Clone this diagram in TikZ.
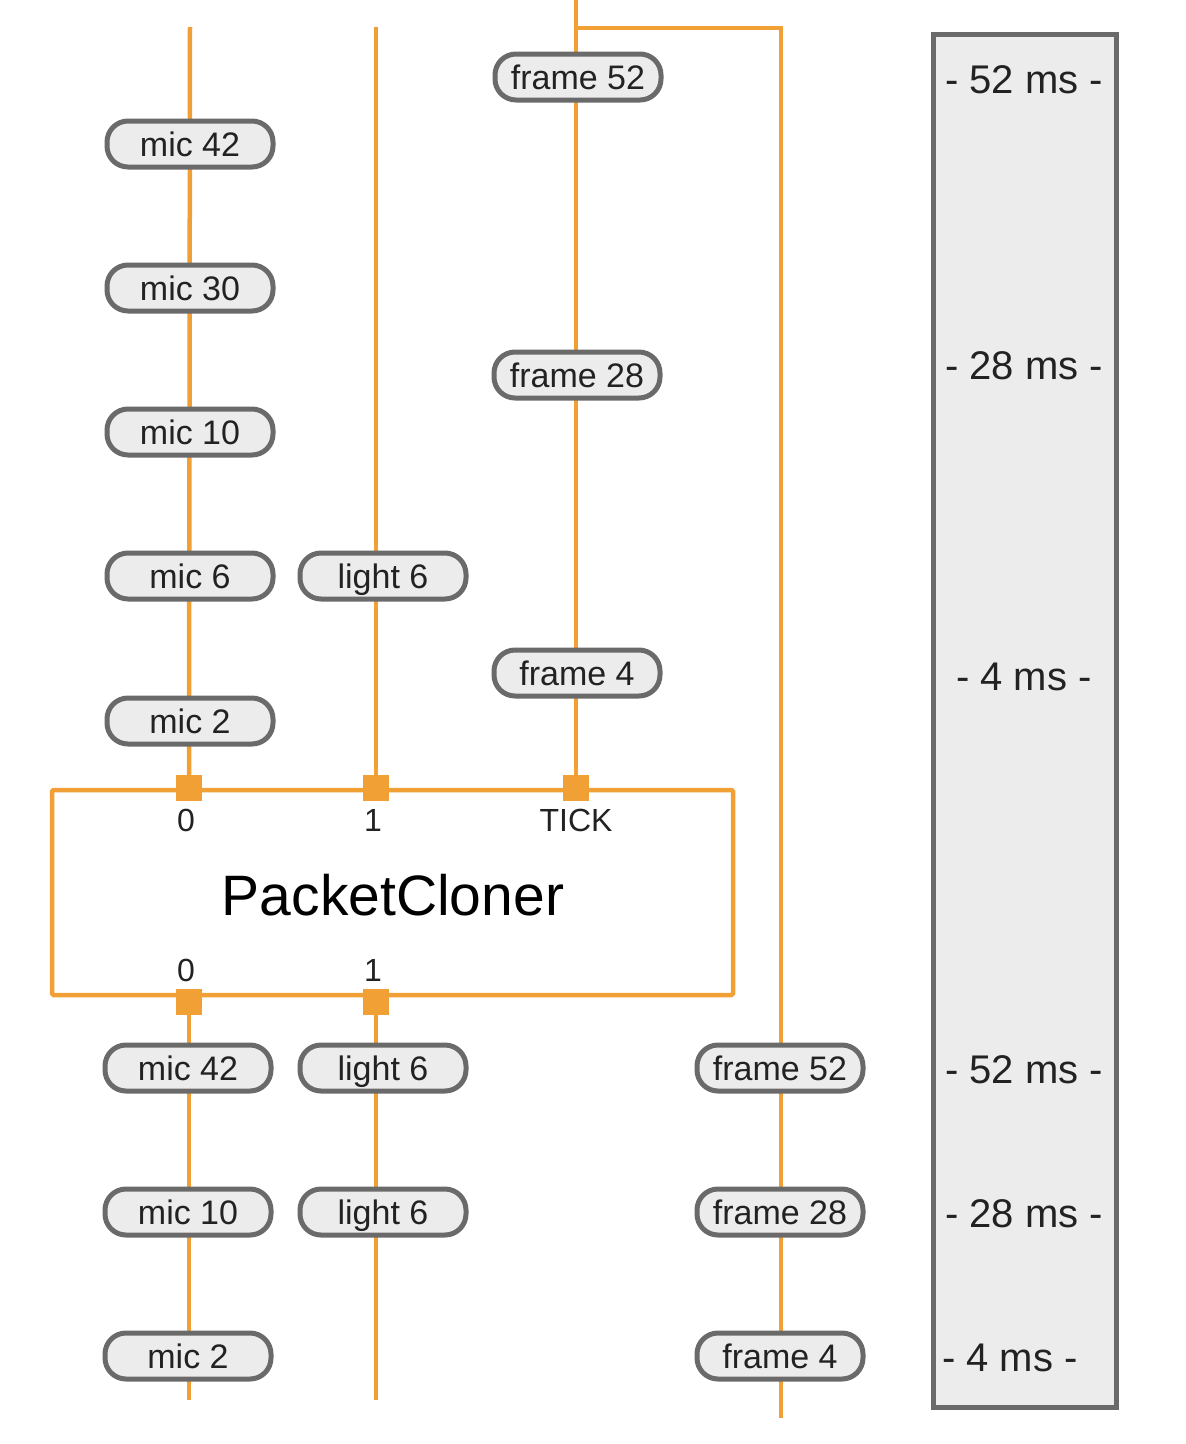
\documentclass[tikz,border=0pt]{standalone}
\usepackage{fontspec}
\setmainfont{Liberation Sans}
\usetikzlibrary{backgrounds}
\definecolor{wirec}{HTML}{F0A035}
\definecolor{pillfill}{HTML}{ECECEC}
\definecolor{pilldraw}{HTML}{6A6A6A}
\definecolor{txt}{HTML}{222222}
\begin{document}
\begin{tikzpicture}[x=1pt,y=-1pt,
  pill/.style={draw=pilldraw, fill=pillfill, line width=5pt, rounded corners=21pt,
    minimum width=166pt, minimum height=46pt, inner sep=0pt,
    text height=24pt, text depth=0pt,
    font=\fontsize{34}{40}\selectfont, text=txt},
  wire/.style={draw=wirec, line width=4.5pt},
  port/.style={fill=wirec, minimum size=26pt, inner sep=0pt},
  plabel/.style={font=\fontsize{32}{36}\selectfont, text=txt, inner sep=0pt, text height=23pt, text depth=0pt},
  mslabel/.style={font=\fontsize{40}{44}\selectfont, text=txt, inner sep=0pt, text height=29pt, text depth=0pt},
  panel/.style={draw=pilldraw, fill=pillfill, line width=5pt}]
\useasboundingbox (0,0) rectangle (1186,1444);

% PacketCloner box
\node[wire, minimum width=681pt, minimum height=205pt, inner sep=0pt, rounded corners=1.5pt] (pc) at (392.5,892.5) {};
\node[font=\fontsize{57}{62}\selectfont, text=black, text height=41pt, text depth=0pt, inner sep=0pt] (title) at (393,895) {PacketCloner};

% ports
\node[port] (in0) at (189,788) {};
\node[port] (in1) at (376,788) {};
\node[port] (tick) at (576,788) {};
\node[port] (out0) at (189,1002) {};
\node[port] (out1) at (376,1002) {};
\node[plabel] (lin0) at (186,820) {0};
\node[plabel] (lin1) at (373,820) {1};
\node[plabel] (ltick) at (576,820) {TICK};
\node[plabel] (lout0) at (186,970) {0};
\node[plabel] (lout1) at (373,970) {1};

% free ends
\coordinate (topA) at (190,27);
\coordinate (topB) at (376,27);
\coordinate (topF) at (576,0);
\coordinate (branch) at (576,28);
\coordinate (botA) at (189,1400);
\coordinate (botB) at (376,1400);
\coordinate (botF) at (781,1418);

% input pills
\node[pill] (m42) at (190,144) {mic 42};
\node[pill] (m30) at (190,288) {mic 30};
\node[pill] (m10) at (190,432) {mic 10};
\node[pill] (m6) at (190,576) {mic 6};
\node[pill] (m2) at (190,721) {mic 2};
\node[pill] (l6) at (383,576) {light 6};
\node[pill] (f52) at (578,77) {frame 52};
\node[pill] (f28) at (577,375) {frame 28};
\node[pill] (f4) at (577,673) {frame 4};

% output pills
\node[pill] (om42) at (188,1068) {mic 42};
\node[pill] (om10) at (188,1212) {mic 10};
\node[pill] (om2) at (188,1356) {mic 2};
\node[pill] (ol6a) at (383,1068) {light 6};
\node[pill] (ol6b) at (383,1212) {light 6};
\node[pill] (of52) at (780,1068) {frame 52};
\node[pill] (of28) at (780,1212) {frame 28};
\node[pill] (of4) at (780,1356) {frame 4};

% wires behind
\begin{scope}[on background layer]
\draw[wire] (topA) -- (in0.center);
\draw[wire] (topB) -- (in1.center);
\draw[wire] (topF) -- (tick.center);
\draw[wire] (branch) -| (botF);
\draw[wire] (out0.center) -- (botA);
\draw[wire] (out1.center) -- (botB);
\end{scope}

% timing panel
\node[panel, minimum width=183pt, minimum height=1373pt, inner sep=0pt] (panel) at (1025,721) {};
\node[mslabel] (t1) at (1024,79) {- 52 ms -};
\node[mslabel] (t2) at (1024,365) {- 28 ms -};
\node[mslabel] (t3) at (1024,676) {- 4 ms -};
\node[mslabel] (t4) at (1024,1069) {- 52 ms -};
\node[mslabel] (t5) at (1024,1213) {- 28 ms -};
\node[mslabel] (t6) at (1010,1357) {- 4 ms -};
\end{tikzpicture}
\end{document}
